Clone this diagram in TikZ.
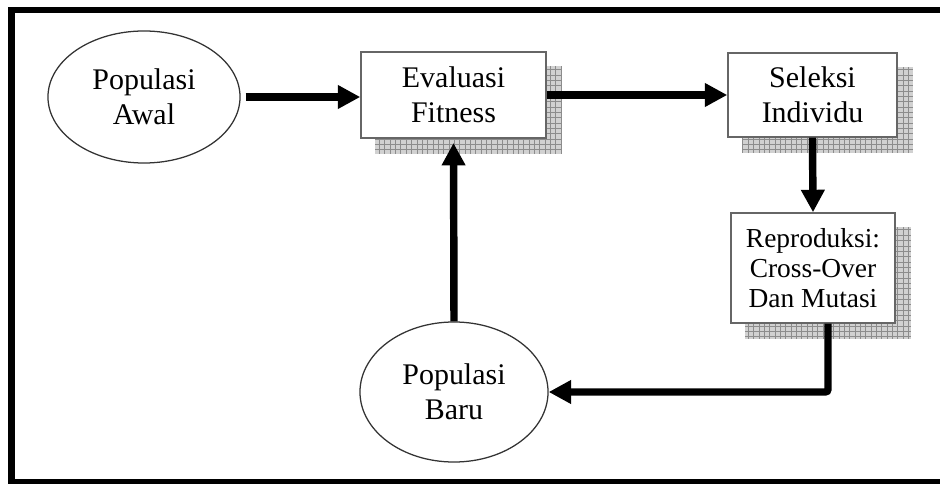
\documentclass[tikz,border=0pt]{standalone}
\usepackage{fontspec}
\setmainfont{Liberation Serif}
\usetikzlibrary{shapes.geometric,arrows.meta,backgrounds}
\begin{document}
\begin{tikzpicture}[x=0.025cm, y=-0.025cm]
%styles des noeuds
\tikzstyle{populasi}=[ellipse, draw=black!80, line width=0.9pt, align=center, inner sep=0pt, font=\fontsize{21.3}{24.9}\selectfont]
\tikzstyle{proses}=[rectangle, draw=black!60, line width=1pt, fill=white, align=center, inner sep=0pt, font=\fontsize{21.3}{24.9}\selectfont]
\tikzstyle{bayang}=[fill=black!18]
\tikzstyle{kotak}=[black!45, line width=0.4pt, step=3.8pt]
\tikzstyle{panah}=[line width=5.3pt, -{Triangle[length=16pt,width=16pt]}]
%cadre
\useasboundingbox (0,0) rectangle (940,484);
\clip (0,0) rectangle (940,484);
\draw[line width=4.7pt] (11.5,10) rectangle (960,482);
%figure
\node[populasi, minimum width=4.8cm, minimum height=3.3cm] (awal) at (144,97) {Populasi\\Awal};
\node[proses, minimum width=4.625cm, minimum height=2.15cm] (evaluasi) at (453.5,95) {Evaluasi\\Fitness};
\node[proses, minimum width=4.225cm, minimum height=2.1cm] (seleksi) at (812.5,95) {Seleksi\\Individu};
\node[proses, minimum width=4.1cm, minimum height=2.75cm, font=\fontsize{19.5}{21.3}\selectfont] (reproduksi) at (813,268) {Reproduksi:\\Cross-Over\\Dan Mutasi};
\node[populasi, minimum width=4.7cm, minimum height=3.5cm] (baru) at (454,392) {Populasi\\Baru};
%bayangan
\begin{scope}[on background layer]
\fill[bayang] ([shift={(15,15)}]evaluasi.north west) rectangle ([shift={(15,15)}]evaluasi.south east);
\draw[kotak] ([shift={(15,15)}]evaluasi.north west) grid ([shift={(15,15)}]evaluasi.south east);
\fill[bayang] ([shift={(15,15)}]seleksi.north west) rectangle ([shift={(15,15)}]seleksi.south east);
\draw[kotak] ([shift={(15,15)}]seleksi.north west) grid ([shift={(15,15)}]seleksi.south east);
\fill[bayang] ([shift={(15,15)}]reproduksi.north west) rectangle ([shift={(15,15)}]reproduksi.south east);
\draw[kotak] ([shift={(15,15)}]reproduksi.north west) grid ([shift={(15,15)}]reproduksi.south east);
\end{scope}
%panah
\draw[panah, shorten <=3.5pt] (awal.east) -- (awal.east -| evaluasi.west);
\draw[panah] (evaluasi.east) -- (seleksi.west);
\draw[panah] (seleksi.south) -- (reproduksi.north);
\draw[panah, rounded corners=2pt] ([xshift=0.375cm]reproduksi.south) |- (baru.east);
\draw[panah, shorten >=3pt] (baru.north) -- (evaluasi.south);
\end{tikzpicture}
\end{document}
